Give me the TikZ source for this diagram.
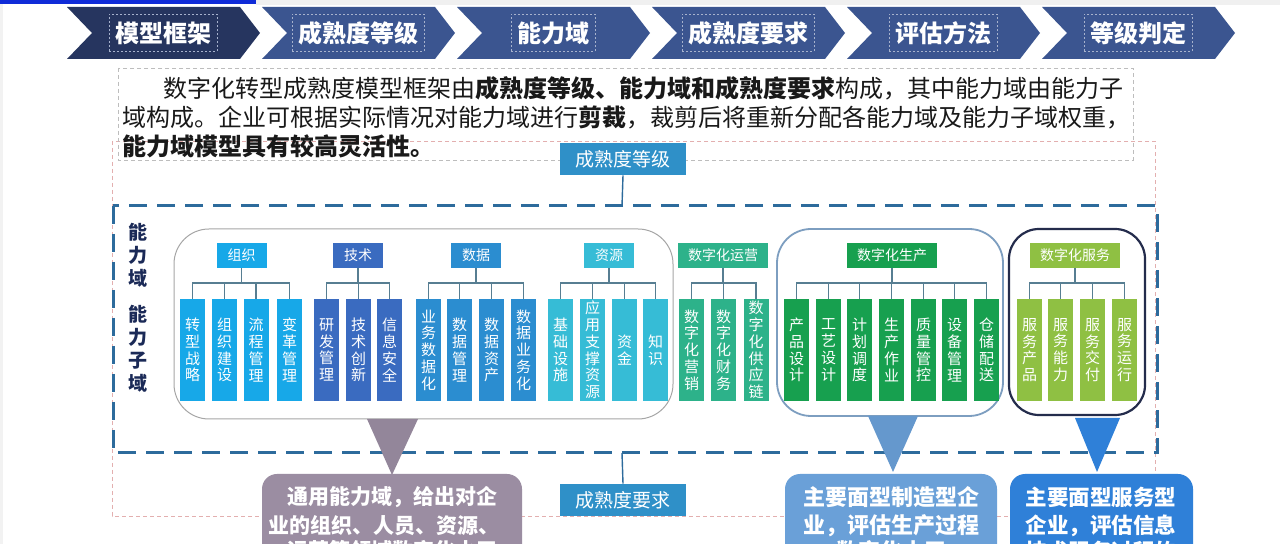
\documentclass[tikz,border=0pt]{standalone}
\usepackage{fontspec}
\setmainfont{Noto Sans CJK SC}
\usetikzlibrary{calc}
\definecolor{chevA}{HTML}{26355F}
\definecolor{chevB}{HTML}{3B5590}
\definecolor{lvl}{HTML}{2F90C8}
\definecolor{frameblue}{HTML}{2D6B9C}
\definecolor{pinkd}{HTML}{E3AFAF}
\definecolor{grayd}{HTML}{BDBDBD}
\definecolor{cOrg}{HTML}{17A8E8}
\definecolor{cTech}{HTML}{3A6BC0}
\definecolor{cData}{HTML}{2B8DD0}
\definecolor{cRes}{HTML}{36BCD6}
\definecolor{cOps}{HTML}{2DB28A}
\definecolor{cProd}{HTML}{17A04F}
\definecolor{cServ}{HTML}{8FC043}
\definecolor{navy}{HTML}{1B2A57}
\definecolor{conn}{HTML}{577E92}
\definecolor{callA}{HTML}{9B8DA2}
\definecolor{callB}{HTML}{6AA0D8}
\definecolor{callC}{HTML}{2F80D8}
\definecolor{topblue}{HTML}{0F2BD8}
\definecolor{grpB}{HTML}{7D9EC0}
\definecolor{grpC}{HTML}{242C4C}
\newcommand\colnode[4]{\node[col=#1] (#2) at (#3,350) {#4};}
\newcommand\hook[2]{\draw[connector] (#1.south) -- (#1.south |- busY) -| (#2.north);}
\begin{document}
\begin{tikzpicture}[x=0.5pt,y=-0.5pt,
  stepbox/.style={text=white, font=\bfseries\fontsize{12}{14}\selectfont, draw=white!55!chevB, dash pattern=on 1pt off 1pt, line width=0.3pt, inner xsep=3pt, minimum height=18.5pt},
  para/.style={anchor=west, font=\fontsize{12}{14}\selectfont, text=black!90, inner sep=0},
  lvlbox/.style={fill=lvl, text=white, font=\fontsize{9.5}{11}\selectfont, minimum width=63pt, minimum height=16pt, inner sep=0},
  hdr/.style={fill=#1, text=white, font=\fontsize{7}{8}\selectfont, minimum height=12.5pt, minimum width=25pt, inner sep=0},
  col/.style={fill=#1, text=white, font=\fontsize{7.5}{8.4}\selectfont, minimum width=12.5pt, minimum height=51pt, inner sep=0, align=center},
  connector/.style={draw=conn, line width=0.7pt},
  vlabel/.style={text=navy, font=\bfseries\fontsize{9.5}{11.5}\selectfont, align=center, inner sep=0},
  calltext/.style={text=white, font=\bfseries\fontsize{#1}{14.5}\selectfont, inner sep=0},
]
\useasboundingbox (0,0) rectangle (1280,544);
\clip (0,0) rectangle (1280,544);
\fill[white] (0,0) rectangle (1280,544);
% top strips
\fill[gray!12] (256,0) rectangle (1280,5);
\fill[gray!10] (0,0) rectangle (3,544);
\fill[topblue] (0,0) rectangle (256,4);
% chevrons
\foreach \i/\t in {0/模型框架,1/成熟度等级,2/能力域,3/成熟度要求,4/评估方法,5/等级判定}{
  \pgfmathsetmacro\L{67+195*\i}
  \ifnum\i=0 \def\cc{chevA}\else\def\cc{chevB}\fi
  \fill[\cc] (\L,7) -- (\L+173,7) -- (\L+193,33) -- (\L+173,59) -- (\L,59) -- (\L+25,33) -- cycle;
  \node[stepbox] (chev\i) at (\L+96,33) {\t};
}
% frames
\draw[pinkd, line width=0.4pt, dash pattern=on 2pt off 1.5pt] (112,141) rectangle (1155,516);
\draw[grayd, line width=0.4pt, dash pattern=on 2pt off 1.5pt] (118,68) rectangle (1133,160);
% paragraph
\node[para] (p1) at (163,88) {数字化转型成熟度模型框架由\textbf{成熟度等级、能力域和成熟度要求}构成，其中能力域由能力子};
\node[para] (p2) at (122,117) {域构成。企业可根据实际情况对能力域进行\textbf{剪裁}，裁剪后将重新分配各能力域及能力子域权重，};
\node[para] (p3) at (122,146) {\textbf{能力域模型具有较高灵活性。}};
% big dashed frame
\draw[frameblue, line width=1.5pt, dash pattern=on 9pt off 5pt] (113,206) rectangle (1157,453);
\coordinate (ftop) at (622,206);
\coordinate (fbot) at (622,453);
\coordinate (busY) at (0,283);
% side labels
\node[vlabel] (lab1) at (138,255) {能\\力\\域};
\node[vlabel] (lab2) at (138,349) {能\\力\\子\\域};
% grouping boxes
\draw[gray!70, line width=0.5pt, rounded corners=17.5pt] (174,229) rectangle (673,419);
\draw[grpB, line width=0.9pt, rounded corners=17pt] (777,229) rectangle (1003,416);
\draw[grpC, line width=1.1pt, rounded corners=15pt] (1009,229) rectangle (1145,415);
% headers
\node[hdr=cOrg] (hOrg) at (241.5,255.5) {组织};
\node[hdr=cTech] (hTech) at (358,255.5) {技术};
\node[hdr=cData] (hData) at (476,255.5) {数据};
\node[hdr=cRes] (hRes) at (609,255.5) {资源};
\node[hdr=cOps, minimum width=45pt] (hOps) at (723,255.5) {数字化运营};
\node[hdr=cProd, minimum width=45pt] (hProd) at (892,255.5) {数字化生产};
\node[hdr=cServ, minimum width=45pt] (hServ) at (1075,255.5) {数字化服务};
% columns
\colnode{cOrg}{o1}{192.5}{转\\型\\战\\略}
\colnode{cOrg}{o2}{224.5}{组\\织\\建\\设}
\colnode{cOrg}{o3}{256}{流\\程\\管\\理}
\colnode{cOrg}{o4}{289.5}{变\\革\\管\\理}
\colnode{cTech}{t1}{326.5}{研\\发\\管\\理}
\colnode{cTech}{t2}{358.5}{技\\术\\创\\新}
\colnode{cTech}{t3}{389.5}{信\\息\\安\\全}
\colnode{cData}{d1}{428.5}{业\\务\\数\\据\\化}
\colnode{cData}{d2}{459.5}{数\\据\\管\\理}
\colnode{cData}{d3}{491.5}{数\\据\\资\\产}
\colnode{cData}{d4}{523.5}{数\\据\\业\\务\\化}
\colnode{cRes}{r1}{560.5}{基\\础\\设\\施}
\colnode{cRes}{r2}{592.5}{应\\用\\支\\撑\\资\\源}
\colnode{cRes}{r3}{624.5}{资\\金}
\colnode{cRes}{r4}{655.5}{知\\识}
\colnode{cOps}{y1}{691.5}{数\\字\\化\\营\\销}
\colnode{cOps}{y2}{723.5}{数\\字\\化\\财\\务}
\colnode{cOps}{y3}{756}{数\\字\\化\\供\\应\\链}
\colnode{cProd}{s1}{796.5}{产\\品\\设\\计}
\colnode{cProd}{s2}{828.5}{工\\艺\\设\\计}
\colnode{cProd}{s3}{859.5}{计\\划\\调\\度}
\colnode{cProd}{s4}{891.5}{生\\产\\作\\业}
\colnode{cProd}{s5}{923.5}{质\\量\\管\\控}
\colnode{cProd}{s6}{954.5}{设\\备\\管\\理}
\colnode{cProd}{s7}{986.5}{仓\\储\\配\\送}
\colnode{cServ}{v1}{1029.5}{服\\务\\产\\品}
\colnode{cServ}{v2}{1060.5}{服\\务\\能\\力}
\colnode{cServ}{v3}{1092.5}{服\\务\\交\\付}
\colnode{cServ}{v4}{1124.5}{服\\务\\运\\行}
% connectors
\foreach \c in {o1,o2,o3,o4}{\hook{hOrg}{\c}}
\foreach \c in {t1,t2,t3}{\hook{hTech}{\c}}
\foreach \c in {d1,d2,d3,d4}{\hook{hData}{\c}}
\foreach \c in {r1,r2,r3,r4}{\hook{hRes}{\c}}
\foreach \c in {y1,y2,y3}{\hook{hOps}{\c}}
\foreach \c in {s1,s2,s3,s4,s5,s6,s7}{\hook{hProd}{\c}}
\foreach \c in {v1,v2,v3,v4}{\hook{hServ}{\c}}
% level boxes
\node[lvlbox] (lvlA) at (623,159) {成熟度等级};
\node[lvlbox] (lvlB) at (623,500) {成熟度要求};
\draw[frameblue, line width=0.7pt] (lvlA.south) -- (ftop);
\draw[frameblue, line width=0.7pt] (fbot) -- (lvlB.north);
% callouts
\fill[callA!95!black] (367,419) -- (418,419) -- (392,475) -- cycle;
\fill[callA, rounded corners=7.5pt] (262,474) rectangle (522,600);
\node[calltext=10.5] (ca1) at (392,497) {通用能力域，给出对企};
\node[calltext=10.5] (ca2) at (384,526) {业的组织、人员、资源、};
\node[calltext=10.5] (ca3) at (392,551) {运营等领域数字化水平};
\fill[callB!95!black] (868,416) -- (918,416) -- (893,472) -- cycle;
\fill[callB, rounded corners=7.5pt] (785,474) rectangle (997,600);
\node[calltext=11] (cb1) at (891,497) {主要面型制造型企};
\node[calltext=11] (cb2) at (891,526) {业，评估生产过程};
\node[calltext=11] (cb3) at (891,551) {数字化水平};
\fill[callC] (1075,418) -- (1120,418) -- (1097,472) -- cycle;
\fill[callC, rounded corners=7.5pt] (1010,474) rectangle (1193,600);
\node[calltext=10.75] (cc1) at (1101,497) {主要面型服务型};
\node[calltext=10.75] (cc2) at (1101,526) {企业，评估信息};
\node[calltext=10.75] (cc3) at (1101,551) {技术服务过程的};
\end{tikzpicture}
\end{document}
